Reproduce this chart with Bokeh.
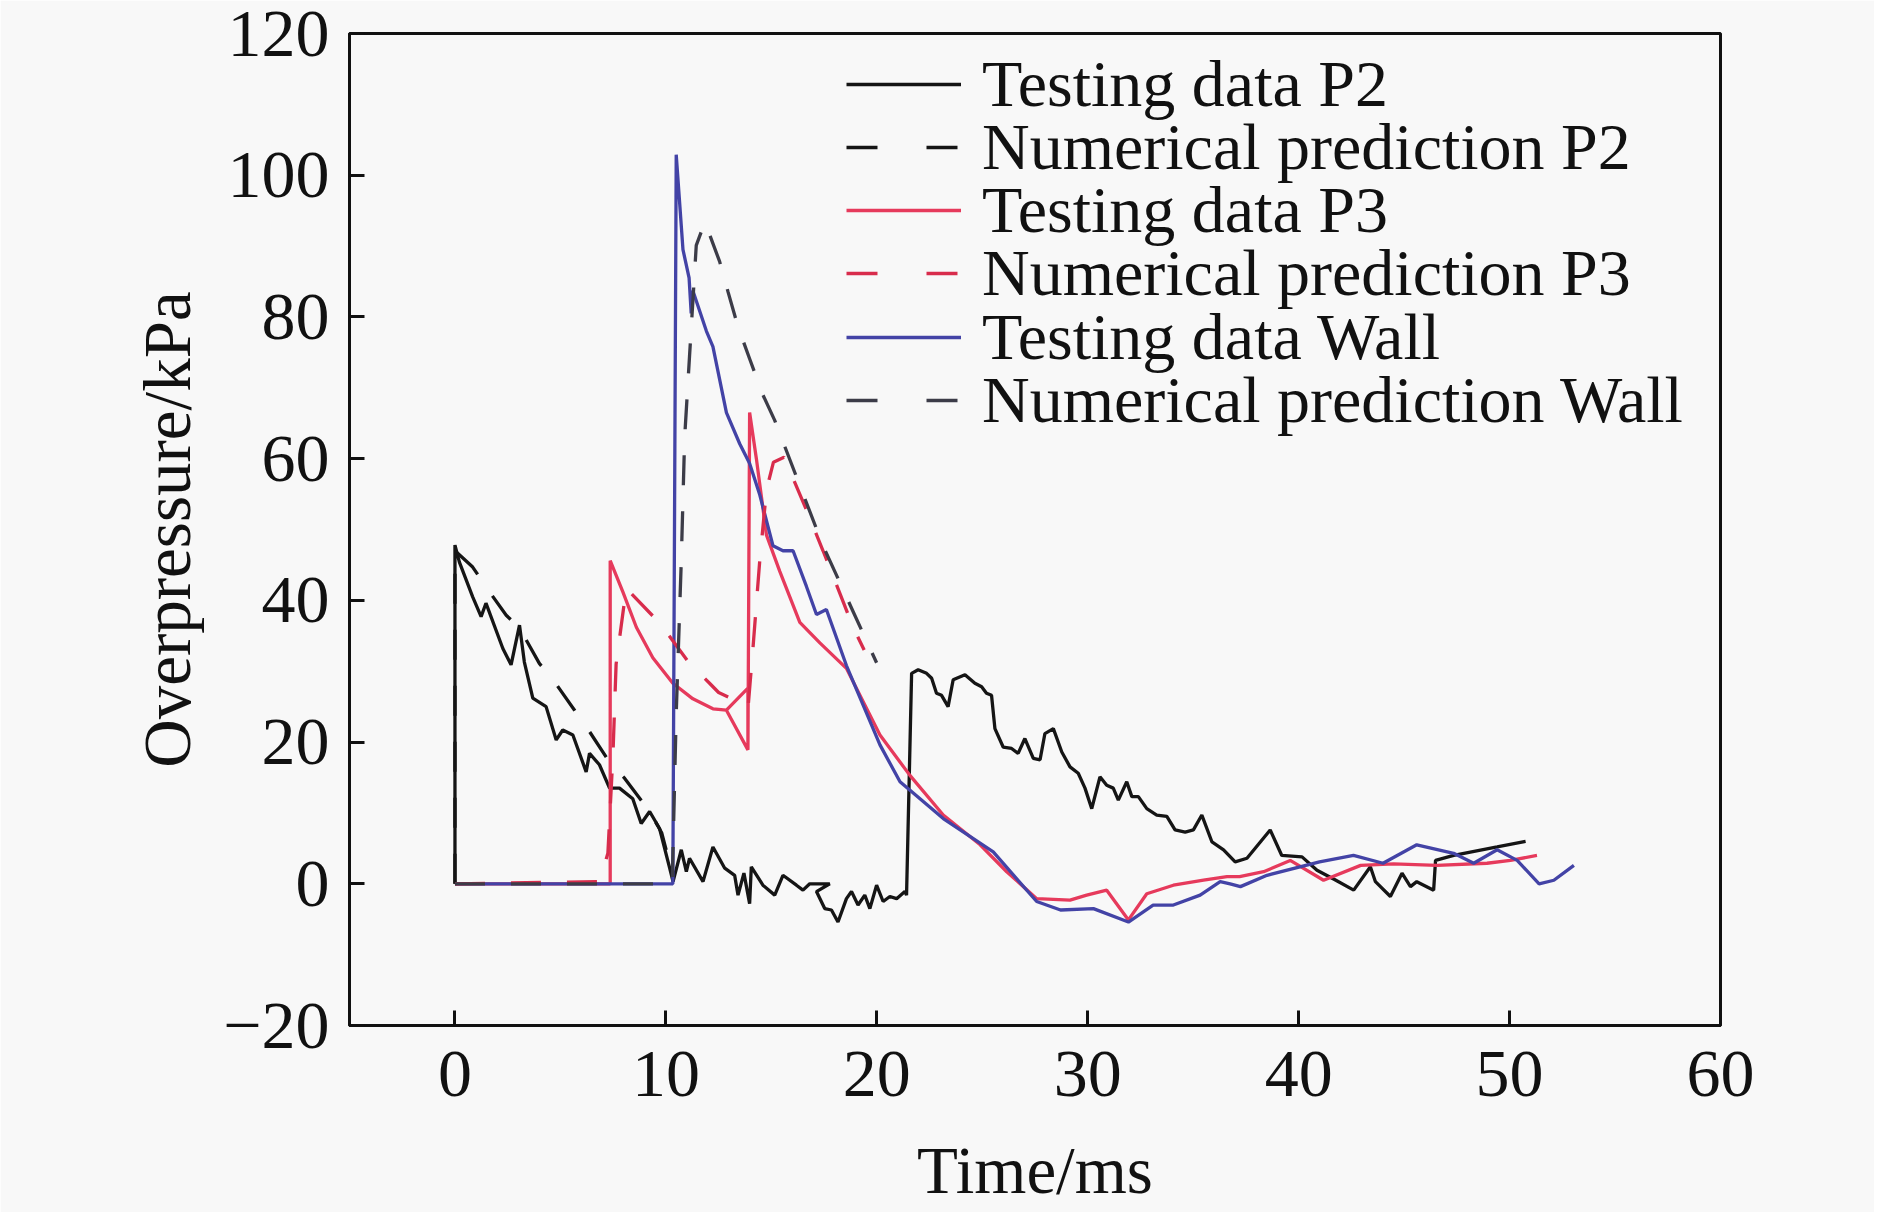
from bokeh.plotting import figure
from bokeh.models import Range1d, FixedTicker, Legend, LegendItem
from bokeh.embed import file_html
from bokeh.resources import INLINE

# ---------------- data ----------------
p2_test_t = [0.0, 0.0, 0.21, 0.84, 1.24, 1.47, 2.27, 2.66, 3.06, 3.29, 3.69, 4.32, 4.80, 5.11,
             5.59, 6.22, 6.38, 6.85, 7.33, 7.80, 8.43, 8.83, 9.23, 9.70, 10.18, 10.34, 10.73,
             10.97, 11.12, 11.76, 12.23, 12.79, 13.26, 13.42, 13.70, 13.97, 14.05, 14.6, 15.16,
             15.55, 16.19, 16.5, 16.82, 17.77, 17.14, 17.53, 17.85, 18.16, 18.56, 18.8, 19.11,
             19.43, 19.67, 19.99, 20.3, 20.62, 20.94, 21.33, 21.41, 21.65, 21.96, 22.36, 22.6,
             22.83, 23.07, 23.38, 23.62, 24.18, 24.65, 24.97, 25.2, 25.44, 25.6, 25.99, 26.39,
             26.7, 27.02, 27.42, 27.74, 27.97, 28.37, 28.77, 29.16, 29.55, 29.87, 30.19, 30.58,
             30.9, 31.21, 31.45, 31.85, 32.09, 32.4, 32.8, 33.27, 33.75, 34.14, 34.62, 35.01,
             35.41, 35.89, 36.44, 36.99, 37.55, 38.65, 39.2, 40.16, 40.87, 41.7, 42.61, 43.4,
             43.64, 44.35, 44.9, 45.3, 45.6, 46.4, 46.49, 47.35, 49.41, 50.76]
p2_test_p = [0.0, 47.8, 45.4, 40.5, 37.7, 39.6, 33.2, 30.9, 36.5, 31.3, 26.2, 25.0, 20.3, 21.7,
             21.0, 15.8, 18.4, 16.8, 13.5, 13.5, 12.0, 8.5, 10.2, 7.8, 2.2, 0.3, 4.8,
             1.7, 3.6, 0.3, 5.2, 2.2, 1.2, -1.6, 1.5, -2.8, 2.4, -0.2, -1.6,
             1.2, -0.2, -0.9, 0.0, 0.0, -1.1, -3.5, -3.7, -5.4, -2.1, -1.1, -3.0,
             -1.6, -3.5, -0.2, -2.5, -1.8, -2.1, -1.1, -1.6, 29.7, 30.2, 29.7, 29.0,
             26.9, 26.6, 25.0, 28.8, 29.5, 28.3, 27.8, 26.9, 26.6, 21.9, 19.3, 19.1,
             18.4, 20.5, 17.7, 17.5, 21.2, 21.9, 18.6, 16.5, 15.6, 13.5, 10.6, 15.1,
             13.9, 13.5, 11.8, 14.4, 12.3, 12.3, 10.6, 9.7, 9.5, 7.6, 7.3, 7.6,
             9.7, 5.9, 4.8, 3.1, 3.6, 7.6, 4.0, 3.8, 1.9, 0.6, -0.9, 2.4,
             0.3, -1.8, 1.5, -0.4, 0.3, -0.9, 3.3, 4.0, 5.2, 6.0]

p2_num_t = [0.0, 0.0, 0.84, 1.47, 2.43, 3.06, 4.0, 4.72, 5.67, 6.22, 7.41, 8.04, 9.23, 9.8, 10.3]
p2_num_p = [0.0, 47.0, 44.7, 41.9, 37.9, 36.1, 31.1, 28.5, 24.5, 22.2, 16.8, 14.9, 10.2, 7.2, 1.5]

p3_test_t = [0.0, 7.36, 7.36, 7.96, 8.6, 9.38, 10.33, 11.28, 12.23, 12.87, 13.89, 13.89, 12.87,
             13.89, 13.97, 14.29, 14.77, 15.4, 16.35, 17.3, 18.56, 20.15, 21.57, 23.15, 24.9,
             26.16, 27.58, 29.16, 29.95, 30.9, 31.93, 32.8, 34.06, 35.49, 36.6, 37.2, 38.34,
             39.6, 41.18, 42.94, 44.5, 46.56, 48.93, 50.04, 51.3]
p3_test_p = [0.0, 0.0, 45.6, 41.2, 36.2, 31.9, 28.3, 26.1, 24.7, 24.5, 27.6, 18.9, 24.5,
             18.9, 66.5, 60.0, 49.2, 44.1, 36.9, 34.0, 30.4, 21.0, 15.3, 9.7, 5.5,
             1.7, -2.1, -2.3, -1.6, -0.9, -5.1, -1.4, -0.2, 0.5, 1.0, 1.0, 1.7,
             3.3, 0.5, 2.6, 2.8, 2.6, 2.9, 3.3, 4.0]

p3_num_t = [0.0, 6.85, 7.25, 7.49, 7.64, 8.12, 9.38, 10.18, 11.12, 12.07, 12.5, 13.9, 14.13,
            14.45, 14.77, 15.1, 15.6, 16.66, 17.45, 17.93, 18.88, 19.4]
p3_num_p = [0.0, 0.3, 4.3, 18.2, 31.0, 41.7, 37.8, 34.9, 31.1, 28.3, 27.0, 25.0, 33.3,
            45.6, 55.6, 59.5, 60.2, 52.8, 47.0, 43.4, 36.2, 33.0]

wall_test_t = [0.0, 10.33, 10.49, 10.81, 11.1, 11.2, 11.28, 11.92, 12.23, 12.87, 13.5, 13.97,
               14.45, 15.08, 15.55, 16.03, 16.66, 17.14, 17.61, 18.56, 20.15, 21.1, 23.15,
               25.52, 27.58, 28.71, 30.27, 31.93, 33.1, 34.06, 35.33, 36.28, 36.75, 37.24,
               38.5, 40.99, 42.6, 44.0, 45.6, 47.35, 48.3, 49.41, 50.36, 51.4, 52.1, 53.05]
wall_test_p = [0.0, 0.0, 102.9, 89.5, 85.5, 80.5, 83.7, 78.0, 75.8, 66.5, 62.1, 59.3,
               54.9, 47.7, 47.0, 47.0, 42.0, 38.0, 38.7, 30.8, 19.6, 14.4, 9.2,
               4.5, -2.5, -3.7, -3.5, -5.4, -3.0, -3.0, -1.6, 0.3, 0.0, -0.4,
               1.2, 3.1, 4.0, 2.9, 5.5, 4.3, 2.9, 4.8, 3.3, 0.0, 0.5, 2.6]

wall_num_t = [0.0, 10.3, 10.49, 10.73, 10.89, 11.12, 11.44, 11.85, 12.55, 12.94, 13.42, 13.97,
              14.6, 15.16, 17.45, 18.88, 19.99]
wall_num_p = [0.0, 0.0, 24.0, 45.6, 63.0, 74.4, 90.1, 93.4, 87.8, 83.6, 78.6, 74.1,
              69.0, 65.4, 47.7, 38.4, 31.2]

labels = ["Testing data P2", "Numerical prediction P2", "Testing data P3",
          "Numerical prediction P3", "Testing data Wall", "Numerical prediction Wall"]
x_ticks = [0, 10, 20, 30, 40, 50, 60]
y_ticks = [-20, 0, 20, 40, 60, 80, 100, 120]

# ---------------- figure ----------------
FONT = "Liberation Serif"
BG = "#f8f8f8"
INK = "#111111"

FRAME_L, FRAME_T, FRAME_W, FRAME_H = 349, 33, 1371, 992
W, H = 1874, 1212

p = figure(width=W, height=H, output_backend="svg", toolbar_location=None,
           x_range=Range1d(-5, 60), y_range=Range1d(-20, 120),
           min_border_left=FRAME_L, min_border_right=W - FRAME_L - FRAME_W,
           min_border_top=FRAME_T, min_border_bottom=H - FRAME_T - FRAME_H)
p.background_fill_color = BG
p.border_fill_color = BG
p.grid.visible = False
p.outline_line_color = INK
p.outline_line_width = 3

for ax in (p.xaxis[0], p.yaxis[0]):
    ax.axis_line_width = 3
    ax.axis_line_color = INK
    ax.major_tick_in = 15
    ax.major_tick_out = 0
    ax.major_tick_line_width = 3
    ax.major_tick_line_color = INK
    ax.minor_tick_line_color = None
    ax.major_label_text_font = FONT
    ax.major_label_text_font_size = "68px"
    ax.major_label_text_color = INK
    ax.axis_label_text_font = FONT
    ax.axis_label_text_font_size = "67px"
    ax.axis_label_text_font_style = "normal"
    ax.axis_label_text_color = INK

p.xaxis.ticker = FixedTicker(ticks=x_ticks)
p.yaxis.ticker = FixedTicker(ticks=y_ticks)
p.yaxis.major_label_overrides = {t: ("\u2212" + str(-t) if t < 0 else str(t)) for t in y_ticks}
p.xaxis.axis_label = "Time/ms"
p.yaxis.axis_label = "Overpressure/kPa"
p.xaxis.major_label_standoff = 26
p.xaxis.axis_label_standoff = 34
p.yaxis.major_label_standoff = 20
p.yaxis.axis_label_standoff = 16

BLACK = "#151515"
RED = "#e63a5c"
RED_D = "#d82c4c"
BLUE = "#4343a6"
GRAY = "#3c3c48"
DASH = "30 26"
LW = 3.3

r_p2 = p.line(p2_test_t, p2_test_p, line_color=BLACK, line_width=LW)
r_p3 = p.line(p3_test_t, p3_test_p, line_color=RED, line_width=LW)
r_wall = p.line(wall_test_t, wall_test_p, line_color=BLUE, line_width=LW)
r_p2n = p.line(p2_num_t, p2_num_p, line_color=BLACK, line_width=LW, line_dash=DASH)
r_p3n = p.line(p3_num_t, p3_num_p, line_color=RED_D, line_width=LW, line_dash=DASH)
r_walln = p.line(wall_num_t, wall_num_p, line_color=GRAY, line_width=LW, line_dash=DASH)

# legend-only renderers (one NaN point, nothing drawn) with the legend's dash pattern
NAN = float("nan")
LEG_DASH = "31 49"
leg_p2n = p.line([NAN], [NAN], line_color=BLACK, line_width=LW, line_dash=LEG_DASH)
leg_p3n = p.line([NAN], [NAN], line_color=RED_D, line_width=LW, line_dash=LEG_DASH)
leg_walln = p.line([NAN], [NAN], line_color=GRAY, line_width=LW, line_dash=LEG_DASH)

legend_renderers = [r_p2, leg_p2n, r_p3, leg_p3n, r_wall, leg_walln]

# one single-row legend per entry, so that the row pitch can follow the reference
ROW_H = 90
FIRST_CENTER = 83.5   # page px of first row centre
PITCH = 63.3
GLYPH_LEFT = 846
for k, (lab, rend) in enumerate(zip(labels, legend_renderers)):
    center = FIRST_CENTER + k * PITCH
    y_loc = (FRAME_T + FRAME_H) - (center + ROW_H / 2)
    lg = Legend(items=[LegendItem(label=lab, renderers=[rend])],
                location=(GLYPH_LEFT - FRAME_L, y_loc))
    lg.label_text_font = FONT
    lg.label_text_font_size = "66px"
    lg.label_text_color = INK
    lg.glyph_width = 115
    lg.glyph_height = ROW_H
    lg.label_height = ROW_H
    lg.label_standoff = 21
    lg.spacing = 0
    lg.padding = 0
    lg.margin = 0
    lg.border_line_color = None
    lg.background_fill_alpha = 0
    p.add_layout(lg, "center")

open("out.html", "w").write(file_html(p, INLINE))
